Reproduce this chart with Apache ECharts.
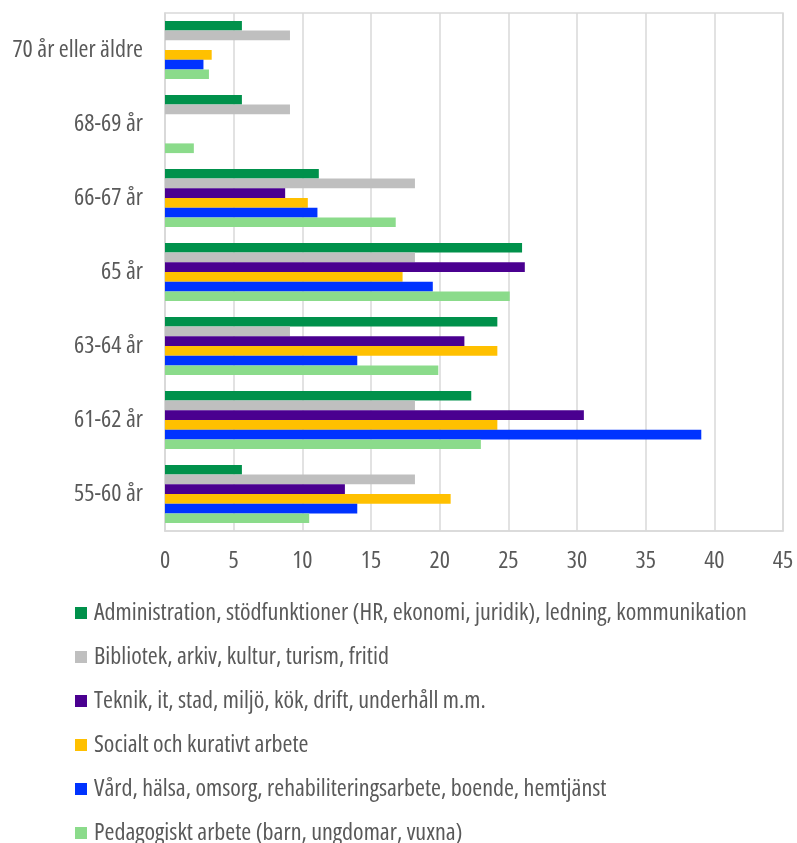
<!DOCTYPE html>
<html>
<head>
<meta charset="utf-8">
<script src="https://cdn.jsdelivr.net/npm/echarts@6/dist/echarts.min.js"></script>
<style>
html,body{margin:0;padding:0;background:#fff;}
#chart{width:797px;height:843px;}
</style>
</head>
<body>
<div id="chart"></div>
<script>
const categories = ['55-60 år','61-62 år','63-64 år','65 år','66-67 år','68-69 år','70 år eller äldre'];
const seriesNames = [
  'Administration, stödfunktioner (HR, ekonomi, juridik), ledning, kommunikation',
  'Bibliotek, arkiv, kultur, turism, fritid',
  'Teknik, it, stad, miljö, kök, drift, underhåll m.m.',
  'Socialt och kurativt arbete',
  'Vård, hälsa, omsorg, rehabiliteringsarbete, boende, hemtjänst',
  'Pedagogiskt arbete (barn, ungdomar, vuxna)'
];
const administration = [5.6, 22.3, 24.2, 26.0, 11.2, 5.6, 5.6];
const bibliotek = [18.2, 18.2, 9.1, 18.2, 18.2, 9.1, 9.1];
const teknik = [13.1, 30.5, 21.8, 26.2, 8.75, 0, 0];
const socialt = [20.8, 24.2, 24.2, 17.3, 10.4, 0, 3.4];
const vard = [14.0, 39.05, 14.0, 19.5, 11.1, 0, 2.8];
const pedagogiskt = [10.5, 23.0, 19.9, 25.1, 16.8, 2.1, 3.2];
const xTicks = [0, 5, 10, 15, 20, 25, 30, 35, 40, 45];

const colors = ['#00914B', '#BFBFBF', '#4A0090', '#FFC000', '#0033FF', '#8BDB8B'];
const values = [administration, bibliotek, teknik, socialt, vard, pedagogiskt];
const FONT = '"Open Sans", sans-serif';
const STRETCH = 'condensed';

const series = values.map((v, i) => ({
  name: seriesNames[i],
  type: 'bar',
  data: v,
  barWidth: 9.7,
  barGap: '0%',
  itemStyle: { color: colors[i] },
  emphasis: { disabled: true }
}));

const chart = echarts.init(document.getElementById('chart'), null, { renderer: 'canvas' });
chart.setOption({
  animation: false,
  backgroundColor: '#ffffff',
  textStyle: { fontFamily: FONT },
  grid: {
    left: 165, right: 14, top: 13, bottom: 312,
    outerBoundsMode: 'none',
    containLabel: false,
    show: true, borderColor: '#d9d9d9', borderWidth: 1.5
  },
  legend: {
    orient: 'vertical',
    left: 75,
    top: 601,
    width: 720,
    height: 300,
    padding: 0,
    itemWidth: 12,
    itemHeight: 12,
    itemGap: 20,
    icon: 'rect',
    data: seriesNames,
    textStyle: { fontFamily: FONT, fontWeight: STRETCH, fontSize: 24, color: '#595959', lineHeight: 24, padding: [0,0,0,2] }
  },
  xAxis: {
    type: 'value',
    min: xTicks[0],
    max: xTicks[xTicks.length - 1],
    interval: 5,
    axisLine: { show: true, lineStyle: { color: '#d9d9d9', width: 1.5 } },
    axisTick: { show: false },
    splitLine: { show: true, lineStyle: { color: '#d9d9d9', width: 1.5 } },
    axisLabel: { color: '#595959', fontSize: 24, fontWeight: STRETCH, fontFamily: FONT, margin: 18 }
  },
  yAxis: {
    type: 'category',
    data: categories,
    axisLine: { show: true, lineStyle: { color: '#d9d9d9', width: 1.5 } },
    axisTick: { show: false },
    axisLabel: { color: '#595959', fontSize: 24, fontWeight: STRETCH, fontFamily: FONT, margin: 22 }
  },
  series: series
});
</script>
</body>
</html>
